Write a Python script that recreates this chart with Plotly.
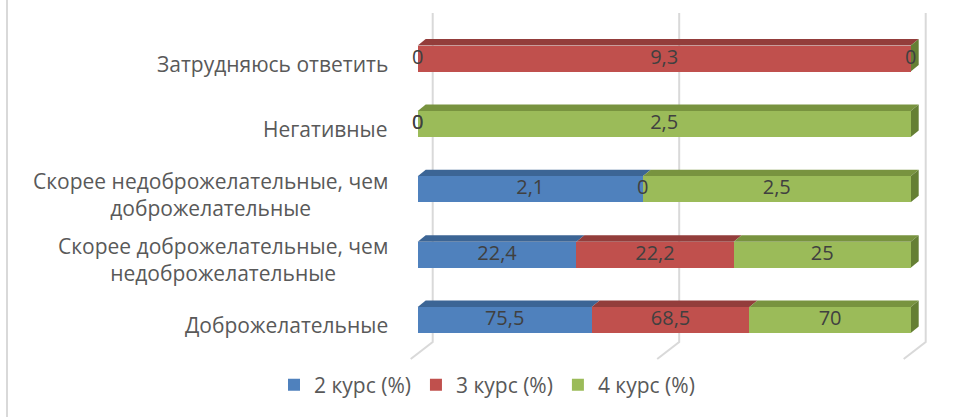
import plotly.graph_objects as go

# ---------------- data ----------------
categories = [
    "Доброжелательные",
    "Скорее доброжелательные, чем<br>недоброжелательные",
    "Скорее недоброжелательные, чем<br>доброжелательные",
    "Негативные",
    "Затрудняюсь ответить",
]
series_names = ["2 курс (%)", "3 курс (%)", "4 курс (%)"]
kurs2 = [75.5, 22.4, 2.1, 0, 0]
kurs3 = [68.5, 22.2, 0, 0, 9.3]
kurs4 = [70, 25, 2.5, 2.5, 0]
grid_ticks = [0, 50, 100]

# ---------------- styles ----------------
front_colors = ["#4F81BD", "#C0504D", "#9BBB59"]
top_colors = ["#3C6595", "#933D3B", "#78933F"]
side_color = "#657F34"
FONT = "Open Sans"
FS = 21
FS_LABEL = 20
TEXT_GRAY = "#595959"
LABEL_GRAY = "#404040"

W, H = 953, 417
ML, MR, MT, MB = 380, 13, 10, 55
PX_PER_PCT = 4.93
PX_PER_ROW = 65.375
plot_w = W - ML - MR
plot_h = H - MT - MB
x0_front = 417.7
xmin = -(x0_front - ML) / PX_PER_PCT
xmax = xmin + plot_w / PX_PER_PCT
y_top_row_px = 58.5
ymax = 4 + (y_top_row_px - MT) / PX_PER_ROW
ymin = ymax - plot_h / PX_PER_ROW

def px2x(p):
    return p / PX_PER_PCT

def px2y(p):
    return p / PX_PER_ROW

def ypix(p):  # absolute pixel row -> data y
    return ymax - (p - MT) / PX_PER_ROW

bar_w = 26 / PX_PER_ROW
dx = px2x(8)
dy = px2y(6.5)

series = [kurs2, kurs3, kurs4]
n = len(categories)
ypos = list(range(n))

# normalized cumulative positions
starts, ends = [], []
for j in range(n):
    tot = sum(s[j] for s in series)
    acc = 0.0
    st, en = [], []
    for s in series:
        v = s[j] / tot * 100 if tot else 0
        st.append(acc)
        acc += v
        en.append(acc)
    starts.append(st)
    ends.append(en)

fig = go.Figure()

shapes = []
# gridlines (back wall + floor)
gx = px2x(15)
for t in grid_ticks:
    xg = t + gx
    shapes.append(dict(type="path", xref="x", yref="y", layer="below",
                       path=f"M{xg},{ypix(13)} L{xg},{ypix(342)} L{xg - px2x(22)},{ypix(359)}",
                       line=dict(color="#D9D9D9", width=2)))

# 3D top faces and side faces
for j in range(n):
    yt = ypos[j] + bar_w / 2
    yb = ypos[j] - bar_w / 2
    for i in range(len(series)):
        a, b = starts[j][i], ends[j][i]
        if b - a > 0:
            shapes.append(dict(type="path", xref="x", yref="y", layer="below",
                               path=f"M{a},{yt} L{b},{yt} L{b + dx},{yt + dy} L{a + dx},{yt + dy} Z",
                               fillcolor=top_colors[i], line=dict(width=0)))
    xe = ends[j][-1]
    shapes.append(dict(type="path", xref="x", yref="y", layer="below",
                       path=f"M{xe},{yb} L{xe},{yt} L{xe + dx},{yt + dy} L{xe + dx},{yb + dy} Z",
                       fillcolor=side_color, line=dict(width=0)))

# chart border (left)
shapes.append(dict(type="line", xref="paper", yref="paper",
                   x0=(7 - ML) / plot_w, x1=(7 - ML) / plot_w,
                   y0=(H - MB - H) / plot_h, y1=(H - MB) / plot_h,
                   line=dict(color="#D9D9D9", width=2)))

for i, s in enumerate(series):
    fig.add_trace(go.Bar(
        y=ypos, x=s, orientation="h", name=series_names[i],
        marker=dict(color=front_colors[i], line=dict(width=0)),
        width=bar_w, hoverinfo="skip",
    ))

def fmt(v):
    if float(v).is_integer():
        return str(int(v))
    return str(v).replace(".", ",")

lx, ly, lt = [], [], []
for j in range(n):
    for i, s in enumerate(series):
        lx.append((starts[j][i] + ends[j][i]) / 2)
        ly.append(ypos[j])
        lt.append(fmt(s[j]))
fig.add_trace(go.Scatter(x=lx, y=ly, text=lt, mode="text", textposition="middle center",
                         textfont=dict(family=FONT, size=FS_LABEL, color=LABEL_GRAY),
                         showlegend=False, hoverinfo="skip", cliponaxis=False))

annotations = []
for j, c in enumerate(categories):
    annotations.append(dict(xref="paper", yref="y", x=(390 - ML) / plot_w, y=ypos[j],
                            yshift=-5, text=c, showarrow=False, xanchor="right",
                            yanchor="middle", align="center",
                            font=dict(family=FONT, size=FS, color=TEXT_GRAY)))

fig.update_layout(
    width=W, height=H,
    margin=dict(l=ML, r=MR, t=MT, b=MB),
    paper_bgcolor="white", plot_bgcolor="white",
    barmode="stack", barnorm="percent",
    xaxis=dict(range=[xmin, xmax], visible=False),
    yaxis=dict(range=[ymin, ymax], visible=False),
    shapes=shapes, annotations=annotations,
    showlegend=True,
    legend=dict(orientation="h", xanchor="center", yanchor="middle",
                x=(487 - ML) / plot_w, y=(H - MB - 385) / plot_h,
                font=dict(family=FONT, size=FS, color=TEXT_GRAY),
                traceorder="normal", itemwidth=30),
)

fig.write_html("out.html", config={"displayModeBar": False},
               post_script="document.body.style.margin='0px';document.body.style.overflow='hidden';")
